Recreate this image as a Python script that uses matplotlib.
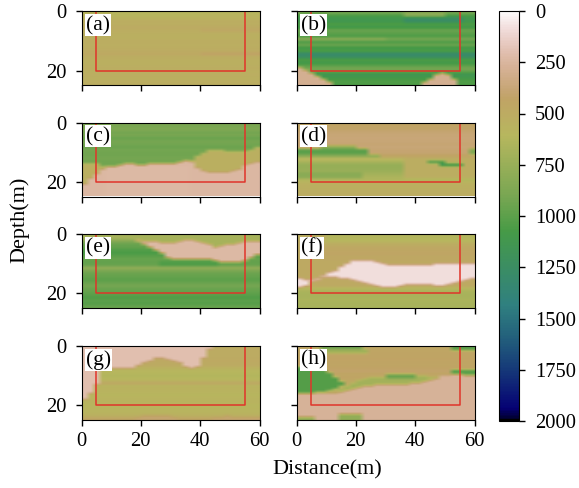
import numpy as np
import matplotlib
matplotlib.use('Agg')
import matplotlib.pyplot as plt

plt.rcParams['font.family'] = ['Liberation Serif', 'DejaVu Serif']

labels = ['(a)', '(b)', '(c)', '(d)', '(e)', '(f)', '(g)', '(h)']
dist_ticks = [0, 20, 40, 60]
depth_ticks = [0, 20]
cbar_ticks = [0, 250, 500, 750, 1000, 1250, 1500, 1750, 2000]
box_x = [5, 5, 55, 55]
box_y = [0, 20, 20, 0]

# background velocity per 1 m of depth, 0-25 m
a_rows = [590, 580, 560, 520, 530, 500, 520, 530, 550, 530, 520, 530, 520, 500, 480, 520, 530, 540, 530, 520, 540, 520, 540, 530, 520]
b_rows = [900, 1050, 1120, 1120, 1050, 1100, 950, 1000, 1050, 900, 1050, 950, 1100, 1050, 1300, 1250, 1050, 1100, 1000, 900, 1000, 1150, 1100, 1050, 1050]
c_rows = [880, 900, 860, 920, 900, 950, 910, 920, 950, 910, 930, 920, 910, 930, 920, 600, 560, 550, 550, 560, 560, 560, 560, 560, 560]
d_rows = [450, 430, 420, 390, 380, 370, 380, 390, 380, 390, 400, 440, 580, 680, 760, 760, 740, 700, 660, 640, 560, 540, 530, 520, 510]
e_rows = [680, 700, 860, 960, 980, 1040, 1060, 1010, 960, 980, 960, 780, 900, 950, 970, 1000, 950, 910, 950, 970, 1000, 1050, 1000, 1030, 960]
f_rows = [640, 620, 590, 510, 480, 460, 450, 460, 470, 490, 490, 490, 490, 490, 490, 500, 510, 520, 620, 660, 680, 670, 660, 680, 670]
g_rows = [510, 500, 500, 500, 490, 490, 500, 560, 600, 620, 620, 590, 470, 580, 560, 580, 590, 580, 570, 590, 600, 580, 580, 540, 450]
h_rows = [460, 450, 440, 440, 430, 440, 450, 430, 410, 450, 440, 460, 480, 490, 500, 520, 270, 260, 250, 260, 250, 260, 250, 260, 260]

# zone edges in metres of depth, one value per 2 m of distance
b_left_top = [19, 20, 21, 22, 23, 24, 25, 25, 25, 25, 25, 25, 25, 25, 25, 25, 25, 25, 25, 25, 25, 25, 25, 25, 25, 25, 25, 25, 25, 25]
b_right_top = [25, 25, 25, 25, 25, 25, 25, 25, 25, 25, 25, 25, 25, 25, 25, 25, 25, 25, 25, 25, 25, 24, 23, 21.5, 21, 21.5, 23, 25, 25, 25]
c_olive_top = [14, 14, 14, 15, 25, 25, 25, 25, 25, 25, 25, 25, 25, 25, 25, 25, 25, 25, 13, 11.5, 10.5, 9.5, 9.5, 9.5, 10, 10, 10, 10, 9.5, 8.5]
c_olive_bot = [21, 19, 17.5, 16, 25, 25, 25, 25, 25, 25, 25, 25, 25, 25, 25, 25, 25, 25, 13.5, 15.5, 16.5, 17, 17, 17, 17, 16.5, 16, 14.5, 14, 13.5]
c_green_bot = [14, 14, 14, 14.5, 15, 15, 14.5, 14, 14, 14.5, 14.5, 14, 14, 14, 14, 14, 13.5, 13, 13, 11.5, 10.5, 9.5, 9.5, 9.5, 10, 10, 10, 10, 9.5, 8.5]
e_pink_top = [25, 25, 25, 25, 25, 25, 25, 25, 2, 2, 2.5, 2.5, 2.5, 3, 3, 3, 2.5, 2, 2, 2.5, 3, 3.5, 4.5, 4, 3.5, 3.3, 3, 2.5, 2.5, 2.4]
e_pink_bot = [25, 25, 25, 25, 25, 25, 25, 25, 2, 2.5, 3.5, 4.5, 5.5, 6.5, 8, 8.5, 8.5, 8.5, 8.5, 8.5, 8.5, 8.5, 9, 9.5, 9.5, 9.5, 9.5, 9, 8, 7]
e_olive_bot = [2, 2, 2, 2, 2, 2, 2, 2, 2, 2, 2.5, 2.5, 2.5, 3, 3, 3, 2.5, 2, 2, 2.5, 3, 3.5, 4.5, 4, 3.5, 3.3, 3, 2.5, 2.5, 2.4]
f_white_top = [15, 15.5, 15.5, 15, 14, 13, 12.5, 11, 10, 8.8, 8.8, 9, 9, 9.5, 9.8, 10.3, 10.5, 10.5, 10.3, 10.3, 10.3, 10.3, 10.3, 10, 10, 10, 10, 10, 10, 10]
f_white_bot = [18, 17.5, 16, 15.5, 14.5, 14.5, 14.5, 14.8, 15, 15.5, 16, 16.5, 17, 17.5, 18, 18.2, 18, 17.3, 17, 17, 17, 17, 17.2, 17.3, 17.3, 16.8, 16.3, 16, 15.5, 15]
g_pink_bot = [18, 16, 13, 7.5, 7.5, 7.5, 7.5, 7.5, 7.3, 6.5, 5.5, 4.8, 4.2, 4.2, 4.5, 5, 5.5, 7, 7.5, 7, 4, 1, 0, 0, 0, 0, 0, 0, 0, 0]
g_low_top = [25, 25, 25, 25, 25, 25, 25, 25, 25, 24, 23.5, 23.5, 23.5, 23.5, 23.5, 24, 25, 25, 25, 25, 25, 25, 24, 24, 23.5, 24, 24, 24, 24, 24]
h_edge = [16, 16, 16, 16, 16, 16, 16, 15.5, 15, 14.5, 14, 13.5, 13.5, 13, 13, 13, 13, 13, 13, 12.5, 12.5, 12, 11.5, 11, 10, 10, 9.5, 9.5, 10, 10]
h_olive_top = [16, 16, 16, 16, 16, 16, 16, 14.5, 13.5, 12.5, 11.5, 11, 10.5, 10.5, 10.5, 10, 10, 9.5, 9.5, 9.5, 10, 10, 10.5, 10.5, 10, 10, 9.5, 9.5, 10, 10]
h_green_bot = [16, 16, 16, 15.5, 15.5, 15, 14.5, 13.5, 13, 11, 10, 10, 10, 10, 10, 10, 10, 10, 10, 10, 10, 10, 10, 10, 10, 10, 10, 10, 10, 10]
h_green_top = [7, 7, 7, 7.5, 8, 9, 10.5, 12, 13.5, 11, 10, 10, 10, 10, 10, 10, 10, 10, 10, 10, 10, 10, 10, 10, 10, 10, 10, 10, 10, 10]


def grid_from(rows):
    return np.repeat(np.array(rows, dtype=float), 2)[:, None].repeat(30, axis=1)


def paint(grid, top, bot, value, x0=0, x1=60):
    d = np.arange(50) * 0.5 + 0.25
    top = np.full(30, top, dtype=float) if np.isscalar(top) else np.array(top, dtype=float)
    bot = np.full(30, bot, dtype=float) if np.isscalar(bot) else np.array(bot, dtype=float)
    for i in range(int(x0 / 2), int(x1 / 2)):
        grid[(d >= top[i]) & (d < bot[i]), i] = value


a = grid_from(a_rows)
paint(a, 14, 15, 420, 40, 60)
paint(a, 6, 7, 460, 40, 60)
paint(a, 0, 2, 600, 10, 40)

b = grid_from(b_rows)
paint(b, 0, 2, 820, 36, 50)
paint(b, 2, 4, 1250, 36, 56)
paint(b, 9, 10, 820, 0, 30)
paint(b, b_left_top, 25, 290)
paint(b, b_right_top, 25, 290)

c = grid_from(c_rows)
paint(c, c_olive_top, c_olive_bot, 540)
paint(c, c_green_bot, 15, 240, 8, 36)
paint(c, c_olive_bot, 25, 240, 18, 60)
paint(c, 15, 25, 230, 8, 36)
paint(c, c_olive_bot, 25, 240, 0, 8)

d_m = grid_from(d_rows)
paint(d_m, 9, 11, 1000, 0, 24)
paint(d_m, 8, 9, 820, 8, 20)
paint(d_m, 11, 12, 820, 0, 28)
paint(d_m, 12, 19, 520, 36, 60)
paint(d_m, 13, 14, 1050, 44, 50)
paint(d_m, 14, 15, 1150, 48, 56)
paint(d_m, 17, 19, 820, 0, 22)
paint(d_m, 9, 11, 860, 58, 60)

e = grid_from(e_rows)
paint(e, 0, e_olive_bot, 680, 16, 60)
paint(e, e_pink_top, e_pink_bot, 230)
paint(e, 11, 12, 780, 0, 52)
paint(e, 9, 11, 1040, 26, 46)

f = grid_from(f_rows)
paint(f, 0, 2, 520, 0, 10)
paint(f, 0, 2, 620, 10, 60)
paint(f, 2, 9, 490, 0, 8)
paint(f, 15, 18, 490, 6, 60)
paint(f, f_white_top, f_white_bot, 80)

g = grid_from(g_rows)
paint(g, 0, g_pink_bot, 200)
paint(g, g_low_top, 25, 400)

h = grid_from(h_rows)
paint(h, 0, 1.5, 950, 8, 22)
paint(h, 1, 2.5, 720, 6, 24)
paint(h, 0, 1.5, 1000, 52, 60)
paint(h, h_olive_top, h_edge, 700, 14, 50)
paint(h, 9.5, 11, 950, 30, 40)
paint(h, 8, 9.5, 1030, 52, 60)
paint(h, 9.5, 10.5, 800, 56, 60)
paint(h, h_green_top, h_green_bot, 1030, 0, 18)
paint(h, h_edge, 25, 270)
paint(h, 23, 25, 780, 14, 22)
paint(h, 24, 25, 780, 0, 6)

models = [a, b, c, d_m, e, f, g, h]


def soften(m):
    # the source image is a little blurry, so average each row with its neighbours
    p = np.pad(m, ((1, 1), (0, 0)), mode='edge')
    return (p[:-2] + 2 * p[1:-1] + p[2:]) / 4


fig = plt.figure(figsize=(5.79, 4.88), dpi=100)
W, H = 579, 488
lefts = [81.5, 296.5]
tops = [11.5, 122.5, 234, 346]
for i, m in enumerate(models):
    ax = fig.add_axes([lefts[i % 2] / W, 1 - (tops[i // 2] + 74) / H, 178 / W, 74 / H])
    im = ax.imshow(soften(m), cmap='gist_earth_r', vmin=0, vmax=2000, extent=[0, 60, 25, 0], aspect='auto',
                   interpolation='bilinear', interpolation_stage='rgba')
    ax.plot(box_x, box_y, color='#e0342a', lw=1.1)
    ax.set_xlim(0, 60)
    ax.set_ylim(25, 0)
    ax.set_xticks(dist_ticks)
    ax.set_yticks(depth_ticks)
    ax.tick_params(labelsize=14.8, length=4.5, width=1, pad=4.5)
    ax.tick_params(axis='y', pad=6)
    if i < 6:
        ax.set_xticklabels([])
    if i % 2 == 1:
        ax.set_yticklabels([])
    ax.text(1.5, 4.7, labels[i], fontsize=15.5, va='center', ha='left',
            bbox=dict(facecolor='white', edgecolor='none', pad=1.0))

cax = fig.add_axes([499 / W, 1 - 421 / H, 20 / W, 410 / H])
cb = fig.colorbar(im, cax=cax)
cb.set_ticks(cbar_ticks)
cb.ax.invert_yaxis()
cb.ax.tick_params(labelsize=14.8, length=4.5, width=1, pad=7)

fig.text(327 / W, 1 - 470 / H, 'Distance(m)', fontsize=16, ha='center', va='center')
fig.text(20 / W, 1 - 220 / H, 'Depth(m)', fontsize=16, ha='center', va='center', rotation=90)

fig.savefig('out.png', dpi=100)
